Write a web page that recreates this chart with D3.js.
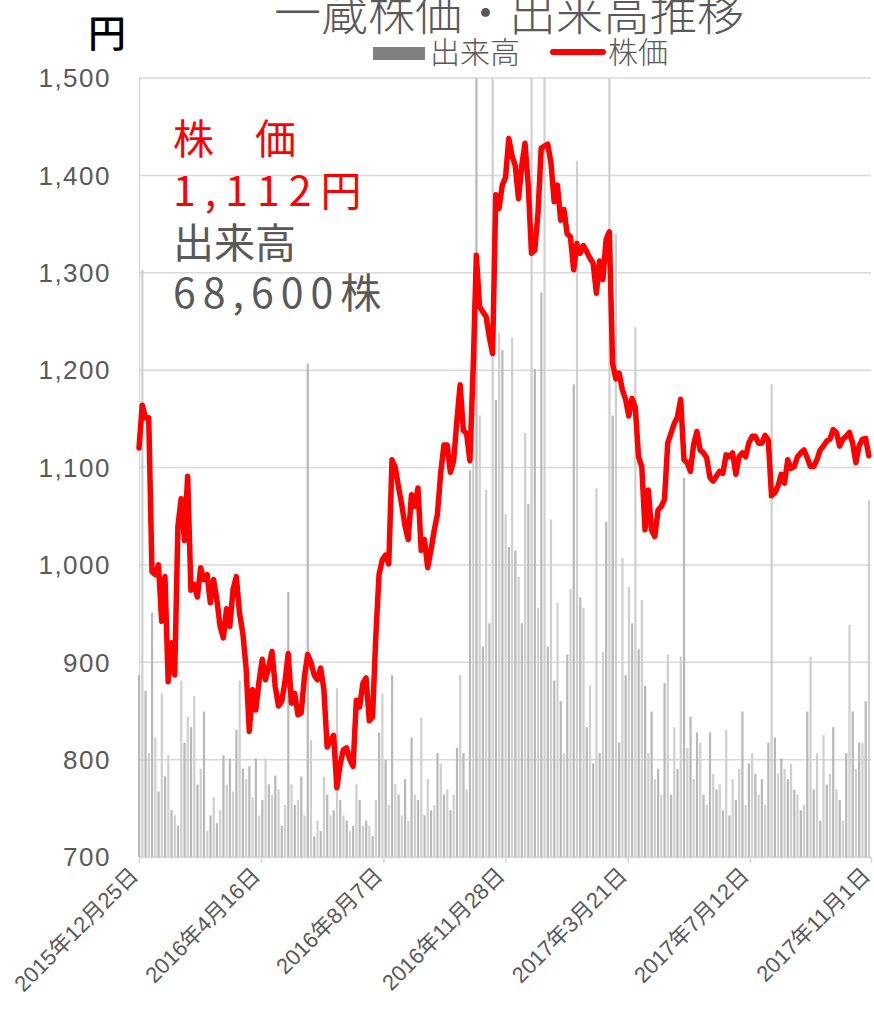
<!DOCTYPE html>
<html><head><meta charset="utf-8">
<script src="https://cdn.jsdelivr.net/npm/d3@7"></script>
<style>
html,body{margin:0;padding:0;background:#fff;}
svg{display:block;}
</style></head>
<body>
<svg id="chart" width="874" height="1015"></svg>
<script>
// ---- data ----
const startDate = "2015-12-25";
const endDate = "2017-11-01";
const stepDays = 3; // sampling interval of the series below
const xTickLabels = ["2015-12-25","2016-04-16","2016-08-07","2016-11-28","2017-03-21","2017-07-12","2017-11-01"];
const yTicks = [700,800,900,1000,1100,1200,1300,1400,1500];
// 株価 (円)
const price = [
1120,1164,1151,1151,993,990,1000,942,988,880,
920,887,1040,1068,1025,1091,974,980,967,997,
985,990,961,985,964,937,925,955,937,975,
988,950,930,895,829,872,851,880,903,882,
895,911,875,855,860,880,909,858,868,846,
848,885,908,900,887,882,894,872,813,820,
825,771,795,810,812,800,793,861,854,878,
884,840,844,926,990,1005,1010,1001,1108,1100,
1080,1062,1040,1026,1072,1060,1079,1015,1026,997,
1015,1035,1052,1094,1123,1123,1095,1107,1148,1185,
1138,1135,1107,1200,1318,1265,1260,1255,1234,1217,
1380,1366,1390,1398,1438,1420,1410,1376,1410,1433,
1390,1320,1323,1361,1428,1430,1432,1413,1373,1390,
1354,1365,1340,1337,1303,1330,1320,1328,1322,1315,
1310,1279,1312,1293,1334,1342,1207,1191,1197,1180,
1170,1153,1171,1162,1111,1101,1036,1077,1036,1029,
1056,1060,1067,1125,1135,1145,1152,1170,1108,1105,
1096,1124,1137,1118,1115,1110,1090,1086,1091,1096,
1094,1113,1111,1115,1093,1111,1115,1111,1125,1132,
1132,1125,1125,1133,1128,1071,1074,1081,1093,1084,
1108,1099,1101,1111,1115,1118,1110,1101,1101,1108,
1118,1122,1127,1129,1139,1136,1122,1129,1132,1136,
1125,1105,1122,1129,1130,1112
];
// 出来高 (千株)
const volume = [
35,113,32,20,47,23,12.6,31.5,15.5,19.6,
9,8,6,34,22,27,25,31,14,17,
28,5,8,11.5,6.5,9,19.6,14,19,12.6,
24.5,34,17,15,17.5,11.5,19,8,11,19,
14,12,15.7,13,6,10,51,14,10,11,
15.5,8,95,22.5,4,7,5,15.5,12,8,
9,32.5,11,8,7,5,6,14,11,6,
7,6,4,11,24,31.5,18.7,10,35,14,
12,8,15,7,23,12,11,26.8,8,15,
9,10,20,18,12,13,9,12,21,35,
20,13,74.5,107,150,85,40.5,70.7,45,150,
88,101,97.6,66,59.7,100,59,54,45,81.6,
68,150,94,48,108.7,150,40.5,65,34,49,
30,20,39,51.6,91,134,50,48,25,33,
18,71,20,39.5,64.5,150,85,120,22,57.6,
35,52,45,102,40,49.5,33,20,28,15,
17,12,33.5,39,12,25,17,38.6,73,21,
27,15,24,22,12,10,24,16,13,14,
9,24.5,8,15,11,17,28,10,18,20,
16,12,15,10,22,91,23,16,19,17,
15,18,13,12,9,10,28,38.6,13,20,
7,23.5,14,16,25,13,11,7,20,44.7,
28,17,22,22,30,68.6
];
const volumeMax = 150;
const lastPriceText = "1,112円";
const lastVolumeText = "68,600株";

// ---- layout ----
const svg = d3.select("#chart");
const L = 139, R = 871, T = 78, B = 857;
const parse = d3.timeParse("%Y-%m-%d");
const t0 = parse(startDate);
const dates = price.map((_, i) => d3.timeDay.offset(t0, i * stepDays));

const x = d3.scaleTime().domain([t0, parse(endDate)]).range([L, R]);
const y = d3.scaleLinear().domain([700, 1500]).range([B, T]);
const yv = d3.scaleLinear().domain([0, volumeMax]).range([B, T]).clamp(true);

const grey = "#595959";
const fontNum = "'Liberation Sans', Arial, 'Noto Sans CJK JP', sans-serif";
const fontJP = "'Noto Sans CJK JP', 'Noto Sans', sans-serif";

// gridlines
svg.append("g").selectAll("line").data(yTicks).join("line")
  .attr("x1", L).attr("x2", R)
  .attr("y1", d => y(d)).attr("y2", d => y(d))
  .attr("stroke", "#d9d9d9").attr("stroke-width", 1.5);

// left axis line
svg.append("line").attr("x1", L + 0.5).attr("x2", L + 0.5).attr("y1", T).attr("y2", B)
  .attr("stroke", "#d0d0d0").attr("stroke-width", 1);

// volume bars
svg.append("g").selectAll("rect").data(volume).join("rect")
  .attr("x", (d, i) => x(dates[i]) - 1)
  .attr("width", 2.2)
  .attr("y", d => yv(d))
  .attr("height", d => B - yv(d))
  .attr("fill", (d, i) => i % 2 ? "#cfcfcf" : "#b8b8b8");

// y tick labels
svg.append("g").selectAll("text").data(yTicks).join("text")
  .attr("x", 111).attr("y", d => y(d))
  .attr("dy", "0.36em")
  .attr("text-anchor", "end")
  .attr("font-family", fontNum).attr("font-size", 26).attr("letter-spacing", 1.5)
  .attr("fill", grey)
  .text(d => d3.format(",")(d));

// x axis
const fmtJP = d3.timeFormat("%Y年%-m月%-d日");
const xAxis = d3.axisBottom(x)
  .tickValues(xTickLabels.map(parse))
  .tickFormat(fmtJP)
  .tickSize(6).tickSizeOuter(0);
const gx = svg.append("g").attr("transform", `translate(0,${B})`).call(xAxis);
gx.select(".domain").attr("stroke", "#d9d9d9").attr("stroke-width", 1.5);
gx.selectAll(".tick line").attr("stroke", "#d9d9d9").attr("stroke-width", 1.5);
gx.selectAll(".tick text")
  .attr("font-family", fontNum).attr("font-size", 22).attr("fill", grey)
  .attr("text-anchor", "end")
  .attr("x", 0).attr("y", 0).attr("dy", 0)
  .attr("transform", "translate(0,20) rotate(-45)");

// price line
const line = d3.line()
  .x((d, i) => x(dates[i]))
  .y(d => y(d));
svg.append("path").datum(price)
  .attr("d", line)
  .attr("fill", "none").attr("stroke", "#ff0000")
  .attr("stroke-width", 5.5).attr("stroke-linejoin", "round").attr("stroke-linecap", "round");

// title
svg.append("text").attr("x", 509).attr("y", 30).attr("text-anchor", "middle")
  .attr("font-family", fontJP).attr("font-size", 47).attr("font-weight", 300).attr("fill", grey)
  .text("一蔵株価・出来高推移");

// legend
svg.append("rect").attr("x", 373).attr("y", 47).attr("width", 52).attr("height", 13).attr("fill", "#808080");
svg.append("text").attr("x", 430).attr("y", 63).attr("font-family", fontJP).attr("font-size", 30).attr("font-weight", 300).attr("fill", grey).text("出来高");
svg.append("line").attr("x1", 553).attr("x2", 603).attr("y1", 52).attr("y2", 52)
  .attr("stroke", "#ff0000").attr("stroke-width", 6).attr("stroke-linecap", "round");
svg.append("text").attr("x", 608).attr("y", 63).attr("font-family", fontJP).attr("font-size", 30).attr("font-weight", 300).attr("fill", grey).text("株価");

// unit label
svg.append("text").attr("x", 107).attr("y", 47).attr("text-anchor", "middle")
  .attr("font-family", fontJP).attr("font-size", 38).attr("font-weight", 500).attr("fill", "#000").text("円");

// annotations
const ann = svg.append("g").attr("font-family", fontJP).attr("font-size", 41);
ann.append("text").attr("x", 173).attr("y", 154).attr("fill", "#ff0000").text("株　価");
ann.append("text").attr("x", 173).attr("y", 206).attr("fill", "#ff0000").attr("letter-spacing", 9).text(lastPriceText);
ann.append("text").attr("x", 173).attr("y", 258).attr("fill", grey).text("出来高");
ann.append("text").attr("x", 173).attr("y", 308).attr("fill", grey).attr("letter-spacing", 7).text(lastVolumeText);
</script>
</body></html>
